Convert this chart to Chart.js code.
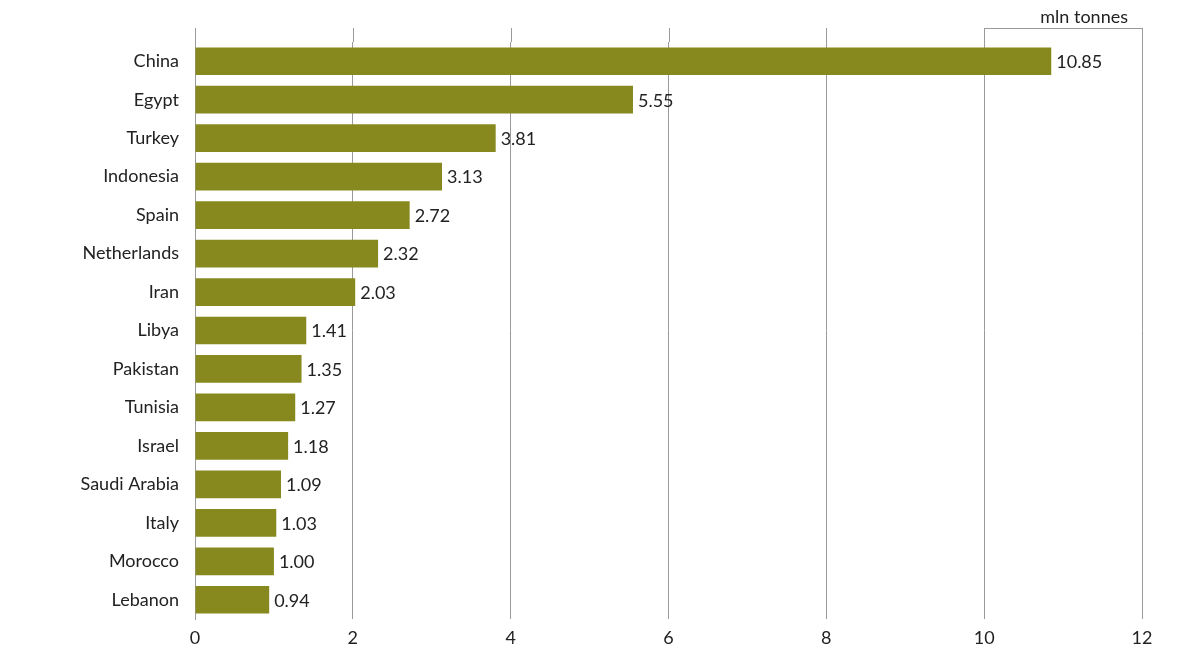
<!DOCTYPE html>
<html>
<head>
<meta charset="utf-8">
<script src="https://cdn.jsdelivr.net/npm/chart.js@4/dist/chart.umd.min.js"></script>
<style>
  body { margin: 0; background: #fff; }
  #wrap { width: 1200px; height: 667px; }
</style>
</head>
<body>
<div id="wrap"><canvas id="grafico"></canvas></div>
<script>
const paises = ['China', 'Egypt', 'Turkey', 'Indonesia', 'Spain', 'Netherlands', 'Iran', 'Libya',
  'Pakistan', 'Tunisia', 'Israel', 'Saudi Arabia', 'Italy', 'Morocco', 'Lebanon'];
const valores = [10.85, 5.55, 3.81, 3.13, 2.72, 2.32, 2.03, 1.41, 1.35, 1.27, 1.18, 1.09, 1.03, 1.00, 0.94];
const ticksX = [0, 2, 4, 6, 8, 10, 12];
const unidade = 'mln tonnes';

const fonte = 'Lato, "Open Sans", sans-serif';
const corGrade = '#9a9a9a';

// Rótulos dos valores + extensão da grade acima da área
const extras = {
  id: 'extras',
  afterDatasetsDraw(chart) {
    const ctx = chart.ctx;
    const x = chart.scales.x;
    const area = chart.chartArea;
    const topo = area.top - 14;
    ctx.save();
    ctx.strokeStyle = corGrade;
    ctx.lineWidth = 1;
    ticksX.forEach(t => {
      const px = Math.round(x.getPixelForValue(t)) + 0.5;
      ctx.beginPath(); ctx.moveTo(px, topo); ctx.lineTo(px, area.top); ctx.stroke();
    });
    ctx.beginPath();
    ctx.moveTo(x.getPixelForValue(10), topo + 0.5);
    ctx.lineTo(x.getPixelForValue(12), topo + 0.5);
    ctx.stroke();
    ctx.fillStyle = '#222';
    ctx.font = '18px ' + fonte;
    ctx.textAlign = 'right';
    ctx.textBaseline = 'bottom';
    ctx.fillText(unidade, x.getPixelForValue(12) - 14, topo - 2);

    ctx.textAlign = 'left';
    ctx.textBaseline = 'middle';
    chart.getDatasetMeta(0).data.forEach((bar, i) => {
      ctx.fillText(valores[i].toFixed(2), bar.x + 5, bar.y + 1);
    });
    ctx.restore();
  }
};

new Chart(document.getElementById('grafico'), {
  type: 'bar',
  data: {
    labels: paises,
    datasets: [{
      data: valores,
      backgroundColor: '#87891e',
      barPercentage: 0.72,
      categoryPercentage: 1
    }]
  },
  options: {
    indexAxis: 'y',
    responsive: true,
    maintainAspectRatio: false,
    animation: false,
    layout: { padding: { top: 42, right: 58, left: 0, bottom: 0 } },
    plugins: { legend: { display: false }, tooltip: { enabled: false } },
    scales: {
      x: {
        min: 0, max: 12,
        afterBuildTicks: s => { s.ticks = ticksX.map(v => ({ value: v })); },
        afterFit: s => { s.height = 48; },
        grid: { color: corGrade, drawTicks: false },
        border: { display: false },
        ticks: { color: '#222', padding: 8, font: { size: 18, family: fonte } }
      },
      y: {
        afterFit: s => { s.width = 195; },
        grid: { display: false, drawTicks: false },
        border: { color: corGrade },
        ticks: { color: '#222', padding: 16, font: { size: 18, family: fonte } }
      }
    }
  },
  plugins: [extras]
});
</script>
</body>
</html>
